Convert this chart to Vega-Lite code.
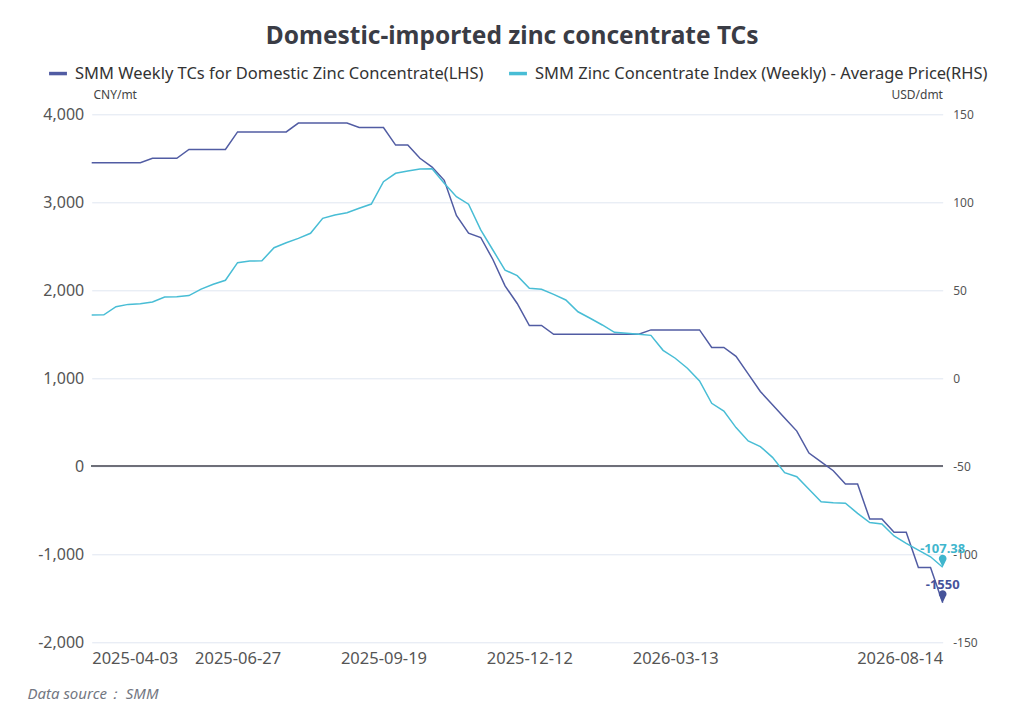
{
  "$schema": "https://vega.github.io/schema/vega-lite/v6.json",
  "width": 851,
  "height": 528,
  "autosize": {"type": "none"},
  "padding": {"left": 91.7, "top": 114.3, "right": 81, "bottom": 80},
  "background": "white",
  "config": {
    "font": "Noto Sans",
    "locale": {"number": {"decimal": ".", "thousands": ",", "grouping": [3], "currency": ["$", ""], "minus": "-"}},
    "view": {"stroke": null},
    "axis": {"domain": false, "ticks": false, "labelColor": "#555", "titleColor": "#444", "titleFontWeight": "normal"}
  },
  "title": {
    "text": "Domestic-imported zinc concentrate TCs",
    "fontSize": 24.5,
    "fontWeight": "bold",
    "color": "#3a3c45",
    "anchor": "middle",
    "frame": "group",
    "dx": -5,
    "dy": -9
  },
  "data": {
    "values": [
      {"date": "2025-04-03", "tc": 3450, "idx": 36},
      {"date": "2025-04-11", "tc": 3450, "idx": 36.1},
      {"date": "2025-04-18", "tc": 3450, "idx": 40.7},
      {"date": "2025-04-25", "tc": 3450, "idx": 42},
      {"date": "2025-05-02", "tc": 3450, "idx": 42.4},
      {"date": "2025-05-09", "tc": 3500, "idx": 43.4},
      {"date": "2025-05-16", "tc": 3500, "idx": 46.2},
      {"date": "2025-05-23", "tc": 3500, "idx": 46.4},
      {"date": "2025-05-30", "tc": 3600, "idx": 47},
      {"date": "2025-06-06", "tc": 3600, "idx": 50.7},
      {"date": "2025-06-13", "tc": 3600, "idx": 53.4},
      {"date": "2025-06-20", "tc": 3600, "idx": 55.7},
      {"date": "2025-06-27", "tc": 3800, "idx": 65.7},
      {"date": "2025-07-04", "tc": 3800, "idx": 66.6},
      {"date": "2025-07-11", "tc": 3800, "idx": 66.8},
      {"date": "2025-07-18", "tc": 3800, "idx": 74.2},
      {"date": "2025-07-25", "tc": 3800, "idx": 77},
      {"date": "2025-08-01", "tc": 3900, "idx": 79.5},
      {"date": "2025-08-08", "tc": 3900, "idx": 82.4},
      {"date": "2025-08-15", "tc": 3900, "idx": 90.9},
      {"date": "2025-08-22", "tc": 3900, "idx": 92.8},
      {"date": "2025-08-29", "tc": 3900, "idx": 94.1},
      {"date": "2025-09-05", "tc": 3850, "idx": 96.6},
      {"date": "2025-09-12", "tc": 3850, "idx": 99},
      {"date": "2025-09-19", "tc": 3850, "idx": 111.7},
      {"date": "2025-09-26", "tc": 3650, "idx": 116.5},
      {"date": "2025-10-03", "tc": 3650, "idx": 117.8},
      {"date": "2025-10-10", "tc": 3500, "idx": 118.9},
      {"date": "2025-10-17", "tc": 3400, "idx": 119.1},
      {"date": "2025-10-24", "tc": 3250, "idx": 110.8},
      {"date": "2025-10-31", "tc": 2850, "idx": 103.2},
      {"date": "2025-11-07", "tc": 2650, "idx": 98.9},
      {"date": "2025-11-14", "tc": 2600, "idx": 84.3},
      {"date": "2025-11-21", "tc": 2350, "idx": 72.9},
      {"date": "2025-11-28", "tc": 2050, "idx": 61.5},
      {"date": "2025-12-05", "tc": 1850, "idx": 58.3},
      {"date": "2025-12-12", "tc": 1600, "idx": 51.1},
      {"date": "2025-12-19", "tc": 1600, "idx": 50.6},
      {"date": "2025-12-26", "tc": 1500, "idx": 47.7},
      {"date": "2026-01-02", "tc": 1500, "idx": 44.5},
      {"date": "2026-01-09", "tc": 1500, "idx": 37.8},
      {"date": "2026-01-16", "tc": 1500, "idx": 34.1},
      {"date": "2026-01-23", "tc": 1500, "idx": 30.3},
      {"date": "2026-01-30", "tc": 1500, "idx": 26.1},
      {"date": "2026-02-06", "tc": 1500, "idx": 25.6},
      {"date": "2026-02-13", "tc": 1500, "idx": 25},
      {"date": "2026-02-27", "tc": 1550, "idx": 24.4},
      {"date": "2026-03-06", "tc": 1550, "idx": 15.9},
      {"date": "2026-03-13", "tc": 1550, "idx": 11.4},
      {"date": "2026-03-20", "tc": 1550, "idx": 5.7},
      {"date": "2026-03-27", "tc": 1550, "idx": -1.5},
      {"date": "2026-04-03", "tc": 1350, "idx": -14.2},
      {"date": "2026-04-10", "tc": 1350, "idx": -18.6},
      {"date": "2026-04-17", "tc": 1250, "idx": -28},
      {"date": "2026-04-24", "tc": 1050, "idx": -35.6},
      {"date": "2026-05-01", "tc": 850, "idx": -38.8},
      {"date": "2026-05-08", "tc": 700, "idx": -44.9},
      {"date": "2026-05-15", "tc": 550, "idx": -53.6},
      {"date": "2026-05-22", "tc": 400, "idx": -55.9},
      {"date": "2026-05-29", "tc": 150, "idx": -63},
      {"date": "2026-06-05", "tc": 50, "idx": -70.1},
      {"date": "2026-06-12", "tc": -50, "idx": -70.7},
      {"date": "2026-06-19", "tc": -200, "idx": -71},
      {"date": "2026-06-26", "tc": -200, "idx": -76.7},
      {"date": "2026-07-03", "tc": -600, "idx": -82},
      {"date": "2026-07-10", "tc": -600, "idx": -82.8},
      {"date": "2026-07-17", "tc": -750, "idx": -89.6},
      {"date": "2026-07-24", "tc": -750, "idx": -93.8},
      {"date": "2026-07-31", "tc": -1150, "idx": -97.6},
      {"date": "2026-08-07", "tc": -1150, "idx": -101.4},
      {"date": "2026-08-14", "tc": -1550, "idx": -107.38}
    ]
  },
  "encoding": {
    "x": {
      "field": "date",
      "type": "ordinal",
      "scale": {"type": "point", "padding": 0},
      "axis": {
        "values": ["2025-04-03", "2025-06-27", "2025-09-19", "2025-12-12", "2026-03-13", "2026-08-14"],
        "labelAngle": 0,
        "labelFlush": true,
        "labelFontSize": 16.5,
        "labelPadding": 8,
        "title": "Data source：  SMM",
        "titleFontStyle": "italic",
        "titleFontSize": 15,
        "titleColor": "#737782",
        "titleAlign": "left",
        "titleBaseline": "middle",
        "titleX": -64.7,
        "titleY": 51
      }
    }
  },
  "layer": [
    {
      "layer": [
        {
          "mark": {"type": "rule", "color": "#6e7079", "strokeWidth": 1},
          "encoding": {"x": {"value": 0}, "x2": {"value": 851}, "y": {"datum": 0}}
        },
        {
          "mark": {"type": "line", "strokeWidth": 1.5},
          "encoding": {
            "y": {
              "field": "tc",
              "type": "quantitative",
              "scale": {"domain": [-2000, 4000], "nice": false, "zero": false},
              "axis": {
                "values": [-2000, -1000, 0, 1000, 2000, 3000, 4000],
                "format": ",d",
                "labelFontSize": 16,
                "labelPadding": 8,
                "grid": true,
                "gridColor": "#e0e6f1",
                "title": "CNY/mt",
                "titleFontSize": 12,
                "titleAngle": 0,
                "titleAlign": "center",
                "titleBaseline": "middle",
                "titleX": 23,
                "titleY": -20
              }
            },
            "color": {
              "datum": "SMM Weekly TCs for Domestic Zinc Concentrate(LHS)",
              "scale": {
                "domain": ["SMM Weekly TCs for Domestic Zinc Concentrate(LHS)", "SMM Zinc Concentrate Index (Weekly) - Average Price(RHS)"],
                "range": ["#515ca3", "#48bdd5"]
              },
              "legend": {
                "orient": "none",
                "direction": "horizontal",
                "legendX": -44.7,
                "legendY": -52,
                "title": null,
                "symbolType": "stroke",
                "symbolStrokeWidth": 3.5,
                "symbolSize": 320,
                "labelFontSize": 16.5,
                "labelColor": "#333",
                "labelLimit": 0,
                "columnPadding": 18,
                "labelOffset": 6
              }
            }
          }
        },
        {
          "transform": [{"filter": "datum.date == '2026-08-14'"}],
          "mark": {"type": "point", "filled": true, "opacity": 1, "size": 121, "color": "#46539a", "shape": "M0,0 L-0.55,-1.15 A0.7,0.7 0 1 1 0.55,-1.15 Z"},
          "encoding": {"y": {"field": "tc", "type": "quantitative"}}
        },
        {
          "transform": [{"filter": "datum.date == '2026-08-14'"}],
          "mark": {"type": "text", "fontSize": 13, "fontWeight": "bold", "color": "#46539a", "dy": -14, "baseline": "alphabetic"},
          "encoding": {"y": {"field": "tc", "type": "quantitative"}, "text": {"field": "tc", "type": "quantitative", "format": "d"}}
        }
      ]
    },
    {
      "layer": [
        {
          "mark": {"type": "line", "strokeWidth": 1.5},
          "encoding": {
            "y": {
              "field": "idx",
              "type": "quantitative",
              "scale": {"domain": [-150, 150], "nice": false, "zero": false},
              "axis": {
                "orient": "right",
                "values": [-150, -100, -50, 0, 50, 100, 150],
                "labelFontSize": 12,
                "labelPadding": 10,
                "grid": false,
                "title": "USD/dmt",
                "titleFontSize": 12,
                "titleAngle": 0,
                "titleAlign": "center",
                "titleBaseline": "middle",
                "titleX": -26,
                "titleY": -20
              }
            },
            "color": {"datum": "SMM Zinc Concentrate Index (Weekly) - Average Price(RHS)"}
          }
        },
        {
          "transform": [{"filter": "datum.date == '2026-08-14'"}],
          "mark": {"type": "point", "filled": true, "opacity": 1, "size": 121, "color": "#3fb6cd", "shape": "M0,0 L-0.55,-1.15 A0.7,0.7 0 1 1 0.55,-1.15 Z"},
          "encoding": {"y": {"field": "idx", "type": "quantitative"}}
        },
        {
          "transform": [{"filter": "datum.date == '2026-08-14'"}],
          "mark": {"type": "text", "fontSize": 13, "fontWeight": "bold", "color": "#3fb6cd", "dy": -14, "baseline": "alphabetic"},
          "encoding": {"y": {"field": "idx", "type": "quantitative"}, "text": {"field": "idx", "type": "quantitative", "format": ".2f"}}
        }
      ]
    }
  ],
  "resolve": {"scale": {"y": "independent"}, "axis": {"y": "independent"}}
}
